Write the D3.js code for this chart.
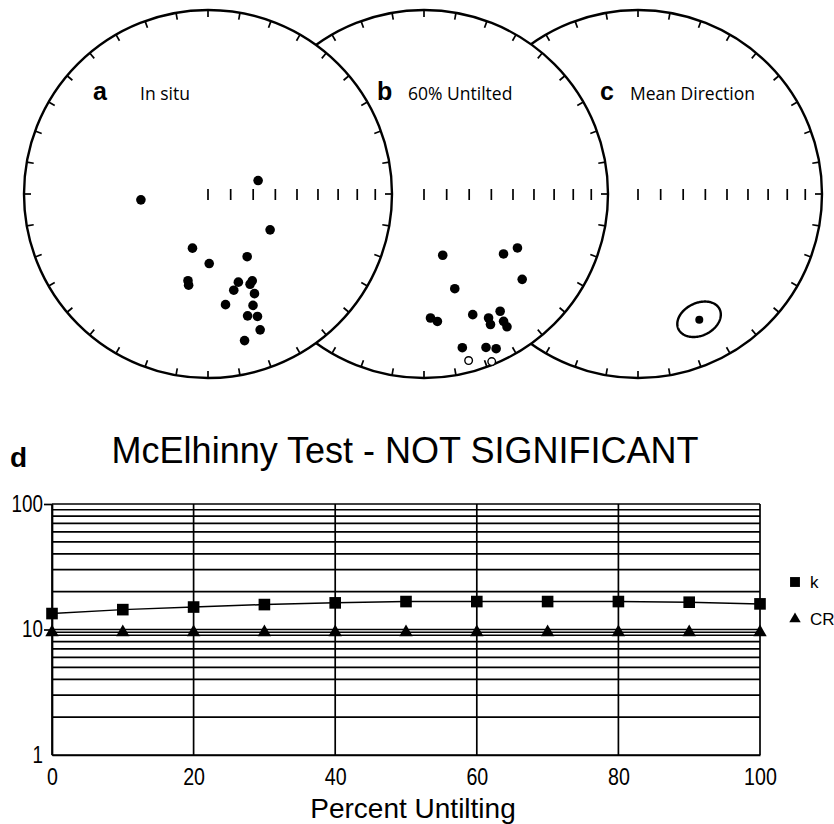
<!DOCTYPE html>
<html lang="en">
  <head>
    <meta charset="utf-8">
    <title>Fold test - McElhinny</title>
    <style>
      body { margin: 0; background: #fff; }
      svg { display: block; }
    </style>
  </head>
  <body>
  <script src="https://cdn.jsdelivr.net/npm/d3@7"></script>
  <div id="chart"></div>

  <script>

  // site directions, in situ (declination, inclination)
  var insituDec = [75, 265, 120, 196, 148, 179, 193, 192, 161, 153, 155, 165, 155, 171, 158, 162, 158, 159, 166];
  var insituInc = [67, 60, 58, 65, 57, 59, 50, 48, 48, 46, 45, 45, 40, 39, 35, 31, 29, 22, 19];

  // same sites after 60% untilting (negative = upper hemisphere)
  var untiltDec = [163, 127, 120, 131, 162, 177, 174, 158, 147, 152.5, 153, 148, 148, 166, 158, 155, 165, 158];
  var untiltInc = [61.5, 45, 41, 30, 45, 33, 31, 30, 25, 25, 21.5, 19.5, 16, 15, 11, 8, -7, -2];

  // mean direction and its cone of confidence
  var meanDec = [154];
  var meanInc = [25];
  var meanA95 = [8.5];

  // McElhinny test
  var untilting = [0, 10, 20, 30, 40, 50, 60, 70, 80, 90, 100];
  var kValues = [13.4, 14.4, 15.1, 15.8, 16.3, 16.7, 16.7, 16.7, 16.7, 16.5, 16.0];
  var crValues = [9.5, 9.5, 9.5, 9.5, 9.5, 9.5, 9.5, 9.5, 9.5, 9.5, 9.5];
  var yTickLabels = [1, 10, 100];
  var xTickLabels = [0, 20, 40, 60, 80, 100];

  var rad = Math.PI / 180;
  var R = 184;

  var svg = d3.select("#chart")
    .append("svg")
      .attr("width", 834)
      .attr("height", 824);

  // equal-area radius: r = R * sqrt(1 - sin|I|)
  var rScale = d3.scaleSqrt().domain([0, 1]).range([0, R]);

  function project(p, dec, inc) {
    var r = rScale(1 - Math.sin(Math.abs(inc) * rad));
    return [p.cx + r * Math.sin(dec * rad), p.cy - r * Math.cos(dec * rad)];
  }

  // drawn back to front: c under b under a
  var panels = [
    {key: "c", name: "Mean Direction", cx: 638, cy: 194, lx: -38, tx: -8},
    {key: "b", name: "60% Untilted", cx: 424, cy: 194, lx: -47, tx: -16},
    {key: "a", name: "In situ", cx: 208, cy: 194, lx: -115, tx: -68}
  ];

  var rimAngles = d3.range(0, 360, 10);
  var incTicks = [90, 80, 70, 60, 50, 40, 30, 20, 10];

  panels.forEach(function(p) {
    var g = svg.append("g");

    g.append("circle")
      .attr("cx", p.cx)
      .attr("cy", p.cy)
      .attr("r", R)
      .attr("fill", "white")
      .attr("stroke", "black")
      .attr("stroke-width", 2.4);

    g.selectAll(".rim")
      .data(rimAngles)
      .enter()
      .append("line")
        .attr("x1", function(d) { return p.cx + R * Math.sin(d * rad); })
        .attr("y1", function(d) { return p.cy - R * Math.cos(d * rad); })
        .attr("x2", function(d) { return p.cx + (R - 7) * Math.sin(d * rad); })
        .attr("y2", function(d) { return p.cy - (R - 7) * Math.cos(d * rad); })
        .attr("stroke", "black")
        .attr("stroke-width", 1.7);

    g.selectAll(".inc")
      .data(incTicks)
      .enter()
      .append("line")
        .attr("x1", function(d) { return project(p, 90, d)[0]; })
        .attr("x2", function(d) { return project(p, 90, d)[0]; })
        .attr("y1", p.cy - 5)
        .attr("y2", p.cy + 6)
        .attr("stroke", "black")
        .attr("stroke-width", 1.7);

    g.append("text")
      .attr("x", p.cx + p.lx)
      .attr("y", 100)
      .text(p.key)
      .attr("font-family", "Liberation Sans, Arial, sans-serif")
      .attr("font-weight", "bold")
      .attr("font-size", "25px");

    g.append("text")
      .attr("x", p.cx + p.tx)
      .attr("y", 100)
      .text(p.name)
      .attr("font-family", "Open Sans, sans-serif")
      .attr("font-size", "17.5px");

    var decs, incs;
    if (p.key == "a") { decs = insituDec; incs = insituInc; }
    else if (p.key == "b") { decs = untiltDec; incs = untiltInc; }
    else { decs = meanDec; incs = meanInc; }

    if (p.key == "c") {
      var ring = d3.geoCircle().center([meanDec[0], meanInc[0]]).radius(meanA95[0]).precision(2)();
      var pts = ring.coordinates[0].map(function(c) { return project(p, c[0], c[1]); });
      g.append("path")
        .attr("d", d3.line().curve(d3.curveLinearClosed)(pts.slice(0, -1)))
        .attr("fill", "none")
        .attr("stroke", "black")
        .attr("stroke-width", 2.4);
    }

    g.selectAll(".dot")
      .data(decs)
      .enter()
      .append("circle")
        .attr("cx", function(d, i) { return project(p, d, incs[i])[0]; })
        .attr("cy", function(d, i) { return project(p, d, incs[i])[1]; })
        .attr("r", function(d, i) { return incs[i] < 0 ? 3.8 : (p.key == "c" ? 4 : 4.8); })
        .attr("fill", function(d, i) { return incs[i] < 0 ? "white" : "black"; })
        .attr("stroke", "black")
        .attr("stroke-width", function(d, i) { return incs[i] < 0 ? 1.4 : 0; });
  });

  // ---- panel d ----
  var x = d3.scaleLinear().domain([0, 100]).range([52, 760]);
  var y = d3.scaleLog().domain([1, 100]).range([755, 504]);

  var plot = svg.append("g");

  plot.selectAll(".hgrid")
    .data(y.ticks())
    .enter()
    .append("line")
      .attr("x1", x(0))
      .attr("x2", x(100))
      .attr("y1", function(d) { return y(d); })
      .attr("y2", function(d) { return y(d); })
      .attr("stroke", "black")
      .attr("stroke-width", 1.7);

  plot.selectAll(".vgrid")
    .data(xTickLabels)
    .enter()
    .append("line")
      .attr("x1", function(d) { return x(d); })
      .attr("x2", function(d) { return x(d); })
      .attr("y1", y(1))
      .attr("y2", y(100))
      .attr("stroke", "black")
      .attr("stroke-width", 1.7);

  var yAxis = plot.append("g")
    .attr("transform", "translate(" + x(0) + ",0)")
    .call(d3.axisLeft(y).tickValues(yTickLabels).tickFormat(d3.format("d")).tickSize(8).tickSizeOuter(0).tickPadding(1));

  var xAxis = plot.append("g")
    .attr("transform", "translate(0," + y(1) + ")")
    .call(d3.axisBottom(x).tickValues(xTickLabels).tickSize(0).tickPadding(13));

  // no visible tick at 1 in the original
  yAxis.selectAll(".tick").filter(function(d) { return d == 1; }).select("line").remove();

  // narrow digits, like Arial Narrow
  [yAxis, xAxis].forEach(function(a, j) {
    var fs = j == 0 ? 23 : 24;
    a.select(".domain").attr("stroke-width", 1.7);
    a.selectAll(".tick line").attr("stroke-width", 1.7);
    a.selectAll("text")
      .attr("font-family", "Liberation Sans, Arial, sans-serif")
      .attr("font-size", fs + "px")
      .attr("textLength", function(d) { return String(d).length * 0.455 * fs; })
      .attr("lengthAdjust", "spacingAndGlyphs")
      .attr("fill", "black");
  });

  var line = d3.line()
    .x(function(d, i) { return x(untilting[i]); })
    .y(function(d) { return y(d); });

  plot.append("path")
    .attr("d", line(crValues))
    .attr("fill", "none")
    .attr("stroke", "black")
    .attr("stroke-width", 1.5);

  plot.append("path")
    .attr("d", line(kValues))
    .attr("fill", "none")
    .attr("stroke", "black")
    .attr("stroke-width", 1.5);

  var sq = d3.symbol(d3.symbolSquare, 135);
  var tri = d3.symbol(d3.symbolTriangle, 78);

  plot.selectAll(".k")
    .data(kValues)
    .enter()
    .append("path")
      .attr("d", sq)
      .attr("transform", function(d, i) { return "translate(" + x(untilting[i]) + "," + y(d) + ")"; })
      .attr("fill", "black");

  plot.selectAll(".cr")
    .data(crValues)
    .enter()
    .append("path")
      .attr("d", tri)
      .attr("transform", function(d, i) { return "translate(" + x(untilting[i]) + "," + y(d) + ")"; })
      .attr("fill", "black");

  // legend
  var legend = [{label: "k", sym: sq, ty: 582}, {label: "CR", sym: tri, ty: 619}];
  legend.forEach(function(l) {
    svg.append("path")
      .attr("d", l.sym)
      .attr("transform", "translate(795," + l.ty + ") scale(0.85)")
      .attr("fill", "black");
    svg.append("text")
      .attr("x", 810)
      .attr("y", l.ty + 6)
      .text(l.label)
      .attr("font-family", "Liberation Sans, Arial, sans-serif")
      .attr("font-size", "17px");
  });

  svg.append("text")
    .attr("x", 405)
    .attr("y", 463)
    .attr("text-anchor", "middle")
    .text("McElhinny Test - NOT SIGNIFICANT")
    .attr("font-family", "Liberation Sans, Arial, sans-serif")
    .attr("font-size", "36px");

  svg.append("text")
    .attr("x", 10)
    .attr("y", 467)
    .text("d")
    .attr("font-family", "Liberation Sans, Arial, sans-serif")
    .attr("font-weight", "bold")
    .attr("font-size", "28px");

  svg.append("text")
    .attr("x", 413)
    .attr("y", 818)
    .attr("text-anchor", "middle")
    .text("Percent Untilting")
    .attr("font-family", "Liberation Sans, Arial, sans-serif")
    .attr("font-size", "28px");

  </script>
  </body>
</html>
